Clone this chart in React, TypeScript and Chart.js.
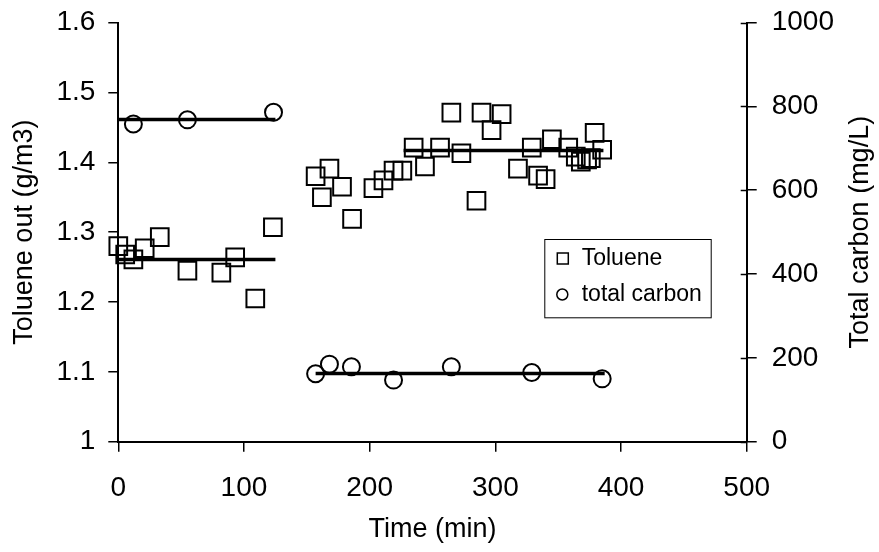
import React, { useEffect, useRef } from 'react';
import { Chart, registerables } from 'chart.js';
Chart.register(...registerables);

// Toluene out (g/m3) — left axis
const tolueneTime = [0, 5.5, 12, 21, 33, 55, 82, 93, 109, 123, 157, 168, 178, 162, 186, 203, 211, 219, 226, 235, 244, 256, 265, 273, 285, 289, 297, 305, 318, 329, 334, 340, 345, 358, 364, 368, 373, 376, 379, 385];
const tolueneValue = [1.280, 1.268, 1.261, 1.277, 1.293, 1.245, 1.242, 1.264, 1.205, 1.307, 1.380, 1.391, 1.365, 1.350, 1.319, 1.363, 1.374, 1.388, 1.388, 1.421, 1.394, 1.421, 1.471, 1.413, 1.345, 1.471, 1.446, 1.469, 1.391, 1.421, 1.381, 1.376, 1.433, 1.421, 1.408, 1.401, 1.404, 1.406, 1.442, 1.418];

// Total carbon (mg/L) — right axis
const carbonTime = [12, 55, 123.5, 157, 168, 185.5, 219, 265, 329, 385];
const carbonValue = [758, 768, 786, 162, 185, 179, 147, 179, 165, 150];

// Mean lines
const tolueneFit1Time = [0, 125];
const tolueneFit1Value = [1.261, 1.261];
const tolueneFit2Time = [227, 386];
const tolueneFit2Value = [1.417, 1.417];
const carbonFit1Time = [0, 125];
const carbonFit1Value = [769, 769];
const carbonFit2Time = [157, 387];
const carbonFit2Value = [163, 163];

const xTicks = [0, 100, 200, 300, 400, 500];
const legendLabels = ['Toluene', 'total carbon'];
const rightTitle = 'Total carbon (mg/L)';

const FONT = '"Liberation Sans", Arial, sans-serif';

const pts = (xs: number[], ys: number[]) => xs.map((x, i) => ({ x, y: ys[i] }));

const extrasPlugin = {
  id: 'extras',
  afterDraw(chart: any) {
    const { ctx, chartArea } = chart;
    ctx.save();
    // inner ticks on right axis (cross style)
    const y1 = chart.scales.y1;
    ctx.strokeStyle = '#000';
    ctx.lineWidth = 1.5;
    y1.ticks.forEach((t: any) => {
      const py = Math.round(y1.getPixelForValue(t.value)) + 0.5;
      ctx.beginPath();
      ctx.moveTo(chartArea.right - 6, py);
      ctx.lineTo(chartArea.right, py);
      ctx.stroke();
    });
    // right axis title, reading bottom-to-top
    ctx.save();
    ctx.translate(y1.right - 18, (chartArea.top + chartArea.bottom) / 2);
    ctx.rotate(-Math.PI / 2);
    ctx.fillStyle = '#000';
    ctx.font = `27px ${FONT}`;
    ctx.textAlign = 'center';
    ctx.textBaseline = 'middle';
    ctx.fillText(rightTitle, 0, 0);
    ctx.restore();
    // legend box
    const bx = chartArea.left + 426;
    const by = chartArea.top + 216.4;
    const bw = 166.4;
    const bh = 78.3;
    ctx.lineWidth = 1;
    ctx.fillStyle = '#fff';
    ctx.fillRect(bx, by, bw, bh);
    ctx.strokeRect(bx + 0.5, by + 0.5, bw, bh);
    ctx.lineWidth = 1.5;
    ctx.strokeRect(bx + 13, by + 14, 11, 11);
    ctx.beginPath();
    ctx.arc(bx + 18, by + 55.5, 5.5, 0, Math.PI * 2);
    ctx.stroke();
    ctx.fillStyle = '#000';
    ctx.font = `23px ${FONT}`;
    ctx.textBaseline = 'middle';
    ctx.textAlign = 'left';
    ctx.fillText(legendLabels[0], bx + 37.4, by + 20);
    ctx.fillText(legendLabels[1], bx + 37.4, by + 56);
    ctx.restore();
  },
};

export default function App() {
  const ref = useRef<HTMLCanvasElement>(null);
  useEffect(() => {
    if (!ref.current) return;
    const lineDs = (xs: number[], ys: number[], axis: string) => ({
      type: 'line' as const,
      data: pts(xs, ys),
      yAxisID: axis,
      borderColor: '#000',
      borderWidth: 3.5,
      pointRadius: 0,
      showLine: true,
      fill: false,
      clip: false as any,
    });
    const chart = new Chart(ref.current, {
      type: 'scatter',
      data: {
        datasets: [
          lineDs(tolueneFit1Time, tolueneFit1Value, 'y'),
          lineDs(tolueneFit2Time, tolueneFit2Value, 'y'),
          lineDs(carbonFit1Time, carbonFit1Value, 'y1'),
          lineDs(carbonFit2Time, carbonFit2Value, 'y1'),
          {
            label: 'Toluene',
            data: pts(tolueneTime, tolueneValue),
            yAxisID: 'y',
            pointStyle: 'rect',
            pointRadius: 12.5,
            pointBorderWidth: 2,
            borderColor: '#000',
            backgroundColor: 'rgba(0,0,0,0)',
            clip: false as any,
          },
          {
            label: 'total carbon',
            data: pts(carbonTime, carbonValue),
            yAxisID: 'y1',
            pointStyle: 'circle',
            pointRadius: 8.5,
            pointBorderWidth: 2,
            borderColor: '#000',
            backgroundColor: 'rgba(0,0,0,0)',
            clip: false as any,
          },
        ] as any,
      },
      options: {
        animation: false,
        responsive: false,
        devicePixelRatio: 1,
        layout: { padding: { top: 22.6, left: 0, right: 0, bottom: 0 } },
        plugins: { legend: { display: false }, tooltip: { enabled: false } },
        scales: {
          x: {
            type: 'linear',
            min: 0,
            max: 500,
            afterBuildTicks: (s: any) => { s.ticks = xTicks.map((v) => ({ value: v })); },
            afterFit: (s: any) => { s.height = 110.3; },
            grid: { drawOnChartArea: false, drawTicks: true, tickLength: 10, color: '#000', lineWidth: 1.5 },
            border: { display: true, color: '#000', width: 2 },
            ticks: { color: '#000', font: { family: FONT, size: 28 }, padding: 20, maxRotation: 0 },
            title: { display: true, text: 'Time (min)', color: '#000', font: { family: FONT, size: 27 }, padding: { top: 0, bottom: 6 } },
          },
          y: {
            type: 'linear',
            position: 'left',
            min: 1,
            max: 1.6,
            afterFit: (s: any) => { s.width = 118.3; s.paddingTop = 0; s.paddingBottom = 0; },
            grid: { drawOnChartArea: false, drawTicks: true, tickLength: 10, color: '#000', lineWidth: 1.5 },
            border: { display: true, color: '#000', width: 2 },
            ticks: { stepSize: 0.1, color: '#000', font: { family: FONT, size: 28 }, padding: 13, callback: (v: any) => (Math.round(v * 10) / 10).toString() },
            title: { display: true, text: 'Toluene out (g/m3)', color: '#000', font: { family: FONT, size: 27 }, padding: { top: 8, bottom: 0 } },
          },
          y1: {
            type: 'linear',
            position: 'right',
            min: 0,
            max: 1000,
            afterFit: (s: any) => { s.width = 132.3; s.paddingTop = 0; s.paddingBottom = 0; },
            grid: { drawOnChartArea: false, drawTicks: true, tickLength: 10, color: '#000', lineWidth: 1.5 },
            border: { display: true, color: '#000', width: 2 },
            ticks: { stepSize: 200, color: '#000', font: { family: FONT, size: 28 }, padding: 15, callback: (v: any) => String(v) },
            title: { display: false },
          },
        },
      } as any,
      plugins: [extrasPlugin],
    });
    return () => chart.destroy();
  }, []);
  return (
    <div style={{ position: 'absolute', left: 0, top: 0, width: 879, height: 552, background: '#fff' }}>
      <canvas ref={ref} width={879} height={552} style={{ display: 'block' }} />
    </div>
  );
}
